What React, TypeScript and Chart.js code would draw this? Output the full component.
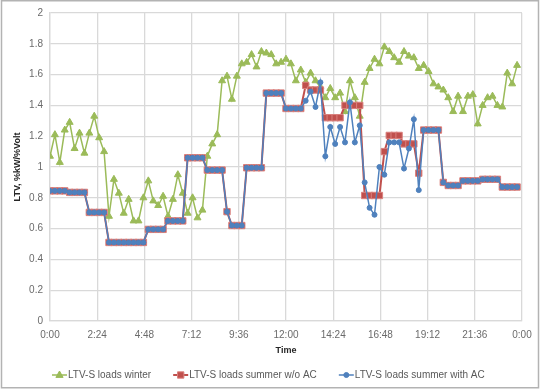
import React, { useEffect, useRef } from "react";
import { Chart, registerables } from "chart.js";

Chart.register(...registerables);

const STEP_MIN = 15;

const winter = [
  1.07, 1.21, 1.03, 1.24, 1.29, 1.12, 1.22, 1.09, 1.22, 1.33, 1.19, 1.10,
  0.68, 0.92, 0.83, 0.70, 0.79, 0.65, 0.65, 0.80, 0.91, 0.78, 0.75, 0.81,
  0.68, 0.79, 0.95, 0.83, 0.70, 0.80, 0.67, 0.72,
  1.07, 1.15, 1.21, 1.56, 1.59, 1.44, 1.59, 1.67, 1.68, 1.73, 1.65,
  1.75, 1.74, 1.73, 1.67, 1.68,
  1.70, 1.67, 1.56, 1.63, 1.55, 1.61, 1.56, 1.52,
  1.45, 1.51, 1.45, 1.48, 1.36, 1.56, 1.45, 1.33,
  1.55, 1.64, 1.70, 1.67, 1.78, 1.75, 1.71, 1.68,
  1.75, 1.72, 1.71, 1.64, 1.66, 1.62, 1.54, 1.52,
  1.50, 1.45, 1.36, 1.46, 1.36, 1.46, 1.47, 1.28,
  1.40, 1.45, 1.46, 1.40, 1.39, 1.61, 1.54, 1.66,
];

const summerNoAC = [
  0.845, 0.845, 0.845, 0.845, 0.835, 0.835, 0.835, 0.835,
  0.705, 0.705, 0.705, 0.705,
  0.51, 0.51, 0.51, 0.51, 0.51, 0.51, 0.51, 0.51,
  0.595, 0.595, 0.595, 0.595,
  0.65, 0.65, 0.65, 0.65,
  1.06, 1.06, 1.06, 1.06,
  0.98, 0.98, 0.98, 0.98,
  0.71, 0.62, 0.62, 0.62,
  0.995, 0.995, 0.995, 0.995,
  1.48, 1.48, 1.48, 1.48,
  1.38, 1.38, 1.38, 1.38,
  1.53, 1.50, 1.50, 1.50,
  1.32, 1.32, 1.32, 1.32,
  1.40, 1.40, 1.40, 1.40,
  0.815, 0.815, 0.815, 0.815,
  1.10, 1.205, 1.205, 1.205,
  1.15, 1.15, 1.15, 0.96,
  1.24, 1.24, 1.24, 1.24,
  0.90, 0.88, 0.88, 0.88,
  0.91, 0.91, 0.91, 0.91,
  0.92, 0.92, 0.92, 0.92,
  0.87, 0.87, 0.87, 0.87,
];

const summerAC = [
  0.845, 0.845, 0.845, 0.845, 0.835, 0.835, 0.835, 0.835,
  0.705, 0.705, 0.705, 0.705,
  0.51, 0.51, 0.51, 0.51, 0.51, 0.51, 0.51, 0.51,
  0.595, 0.595, 0.595, 0.595,
  0.65, 0.65, 0.65, 0.65,
  1.06, 1.06, 1.06, 1.06,
  0.98, 0.98, 0.98, 0.98,
  0.71, 0.62, 0.62, 0.62,
  0.995, 0.995, 0.995, 0.995,
  1.48, 1.48, 1.48, 1.48,
  1.38, 1.38, 1.38, 1.38,
  1.43, 1.49, 1.39, 1.55,
  1.07, 1.26, 1.15, 1.26,
  1.16, 1.42, 1.16, 1.27,
  0.90, 0.735, 0.69, 1.00,
  0.95, 1.16, 1.16, 1.16,
  0.99, 1.12, 1.31, 0.85,
  1.24, 1.24, 1.24, 1.24,
  0.90, 0.88, 0.88, 0.88,
  0.91, 0.91, 0.91, 0.91,
  0.92, 0.92, 0.92, 0.92,
  0.87, 0.87, 0.87, 0.87,
];

const seriesLabels = [
  "LTV-S loads winter",
  "LTV-S loads summer w/o AC",
  "LTV-S loads summer with AC",
];

const yTitle = "LTV, %kW/%Volt";
const xTitle = "Time";

const GREEN = "#9BBB59";
const RED = "#C0504D";
const BLUE = "#4F81BD";
const FONT = "'Liberation Sans', Arial, sans-serif";

function toPoints(vals: number[]) {
  return vals.map((v, i) => ({ x: i * STEP_MIN, y: v }));
}

function fmtTime(v: number) {
  const m = Math.round(v) % 1440;
  const h = Math.floor(m / 60);
  const mm = m % 60;
  return `${h}:${mm < 10 ? "0" : ""}${mm}`;
}

const framePlugin = {
  id: "frame",
  beforeDraw(chart: any) {
    const ctx = chart.ctx;
    ctx.save();
    ctx.fillStyle = "#ffffff";
    ctx.fillRect(0, 0, chart.width, chart.height);
    ctx.restore();
  },
  afterDraw(chart: any) {
    const ctx = chart.ctx;
    ctx.save();
    ctx.strokeStyle = "#b3b3b3";
    ctx.lineWidth = 1.5;
    ctx.strokeRect(1.5, 0.75, 537, 387);
    // legend
    ctx.font = `10px ${FONT}`;
    ctx.textBaseline = "middle";
    ctx.textAlign = "left";
    const y = 375;
    let x = 52;
    chart.data.datasets.forEach((ds: any) => {
      const sym = 15;
      ctx.strokeStyle = ds.borderColor;
      ctx.lineWidth = ds.borderWidth;
      ctx.beginPath();
      ctx.moveTo(x, y);
      ctx.lineTo(x + sym, y);
      ctx.stroke();
      const cx = x + sym / 2;
      ctx.fillStyle = ds.pointBackgroundColor;
      ctx.strokeStyle = ds.pointBorderColor;
      ctx.lineWidth = 1;
      const r = ds.pointRadius;
      ctx.beginPath();
      if (ds.pointStyle === "triangle") {
        ctx.moveTo(cx, y - r);
        ctx.lineTo(cx + r * 0.9, y + r * 0.6);
        ctx.lineTo(cx - r * 0.9, y + r * 0.6);
        ctx.closePath();
      } else if (ds.pointStyle === "rect") {
        const s = r * Math.SQRT1_2;
        ctx.rect(cx - s, y - s, 2 * s, 2 * s);
      } else {
        ctx.arc(cx, y, r, 0, Math.PI * 2);
      }
      ctx.fill();
      ctx.stroke();
      ctx.fillStyle = "#595959";
      ctx.fillText(ds.label, x + sym + 1, y);
      x += sym + 1 + ctx.measureText(ds.label).width + 22;
    });
    ctx.restore();
  },
};

export default function App() {
  const ref = useRef<HTMLCanvasElement | null>(null);

  useEffect(() => {
    document.body.style.margin = "0";
    const canvas = ref.current;
    if (!canvas) return;
    const chart = new Chart(canvas, {
      type: "line",
      data: {
        datasets: [
          {
            label: seriesLabels[0],
            data: toPoints(winter),
            borderColor: GREEN,
            backgroundColor: GREEN,
            borderWidth: 1.5,
            pointStyle: "triangle",
            pointRadius: 4,
            pointBackgroundColor: GREEN,
            pointBorderColor: GREEN,
            pointBorderWidth: 1,
            tension: 0,
            order: 2,
          },
          {
            label: seriesLabels[1],
            data: toPoints(summerNoAC),
            borderColor: RED,
            backgroundColor: RED,
            borderWidth: 2,
            pointStyle: "rect",
            pointRadius: 4.5,
            pointBackgroundColor: RED,
            pointBorderColor: "#d9807d",
            pointBorderWidth: 1,
            tension: 0,
            order: 1,
          },
          {
            label: seriesLabels[2],
            data: toPoints(summerAC),
            borderColor: BLUE,
            backgroundColor: BLUE,
            borderWidth: 1.5,
            pointStyle: "circle",
            pointRadius: 2.5,
            pointBackgroundColor: BLUE,
            pointBorderColor: BLUE,
            pointBorderWidth: 1,
            tension: 0,
            order: 0,
          },
        ] as any,
      },
      options: {
        responsive: false,
        animation: false,
        events: [],
        layout: { padding: { left: 0, right: 20, top: 11, bottom: 0 } },
        plugins: {
          legend: { display: false },
          tooltip: { enabled: false },
        },
        scales: {
          x: {
            type: "linear",
            min: 0,
            max: 1440,
            afterFit(scale: any) {
              scale.height = 71;
            },
            ticks: {
              stepSize: 144,
              autoSkip: false,
              maxRotation: 0,
              padding: 8,
              color: "#6b6b6b",
              font: { family: FONT, size: 10 },
              callback: (v: any) => fmtTime(Number(v)),
            },
            grid: { color: "#d9d9d9", lineWidth: 1.3, drawTicks: false },
            border: { color: "#d9d9d9", width: 1.3 },
            title: {
              display: true,
              text: xTitle,
              color: "#262626",
              font: { family: FONT, size: 9, weight: "bold" },
              padding: { top: 0, bottom: 36 },
            },
          },
          y: {
            min: 0,
            max: 2,
            afterFit(scale: any) {
              scale.width = 50;
            },
            ticks: {
              stepSize: 0.2,
              padding: 7,
              color: "#6b6b6b",
              font: { family: FONT, size: 10 },
              callback: (v: any) => String(Number(Number(v).toFixed(1))),
            },
            grid: { color: "#d9d9d9", lineWidth: 1.3, drawTicks: false },
            border: { color: "#d9d9d9", width: 1.3 },
            title: {
              display: true,
              text: yTitle,
              color: "#262626",
              font: { family: FONT, size: 9, weight: "bold" },
              padding: { top: 12, bottom: 0 },
            },
          },
        },
      } as any,
      plugins: [framePlugin],
    });
    return () => chart.destroy();
  }, []);

  return (
    <div style={{ width: 542, height: 392 }}>
      <canvas ref={ref} width={542} height={392} style={{ display: "block" }} />
    </div>
  );
}
